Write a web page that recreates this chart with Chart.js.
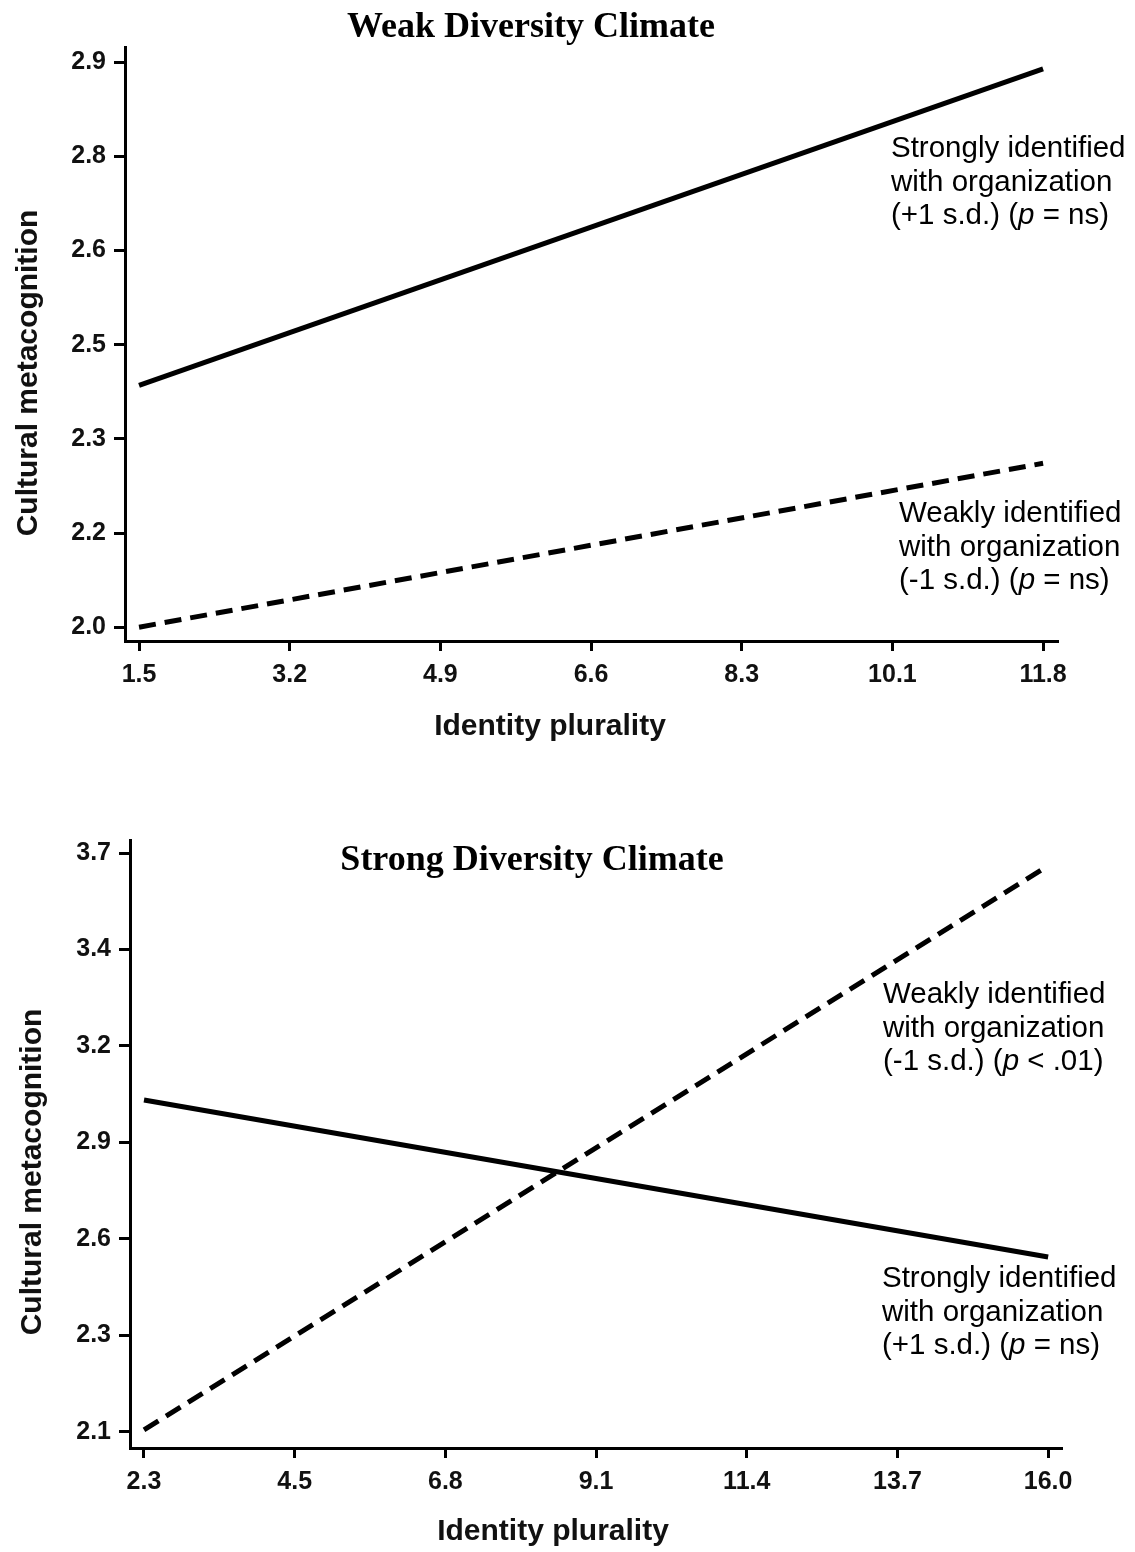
<!DOCTYPE html>
<html><head><meta charset="utf-8">
<script src="https://cdn.jsdelivr.net/npm/chart.js@4.4.1/dist/chart.umd.min.js"></script>
<style>html,body{margin:0;padding:0;background:#fff;} canvas{display:block;position:absolute;left:0;}</style>
</head><body>
<canvas id="c1" width="1135" height="780" style="top:0"></canvas>
<canvas id="c2" width="1135" height="772" style="top:780px"></canvas>
<script>
// ---- Panel 1: Weak Diversity Climate ----
const weakX = [1.5, 11.8];
const weakStrongId = [2.385, 2.889];
const weakWeakId = [2.0, 2.261];
const weakXTicks = [1.5, 3.2167, 4.9333, 6.65, 8.3667, 10.0833, 11.8];
const weakXLabels = ['1.5','3.2','4.9','6.6','8.3','10.1','11.8'];
const weakYTicks = [2.0, 2.15, 2.3, 2.45, 2.6, 2.75, 2.9];
const weakYLabels = ['2.0','2.2','2.3','2.5','2.6','2.8','2.9'];

// ---- Panel 2: Strong Diversity Climate ----
const strongX = [2.3, 16.0];
const strongStrongId = [3.017, 2.583];
const strongWeakId = [2.105, 3.665];
const strongXTicks = [2.3, 4.5833, 6.8667, 9.15, 11.4333, 13.7167, 16.0];
const strongXLabels = ['2.3','4.5','6.8','9.1','11.4','13.7','16.0'];
const strongYTicks = [2.1, 2.3667, 2.6333, 2.9, 3.1667, 3.4333, 3.7];
const strongYLabels = ['2.1','2.3','2.6','2.9','3.2','3.4','3.7'];

const xTitle = 'Identity plurality';
const yTitle = 'Cultural metacognition';
const strongLabel = [[{t:'Strongly identified'}],[{t:'with organization'}],[{t:'(+1 s.d.) ('},{t:'p',i:true},{t:' = ns)'}]];
const weakLabelNs = [[{t:'Weakly identified'}],[{t:'with organization'}],[{t:'(-1 s.d.) ('},{t:'p',i:true},{t:' = ns)'}]];
const weakLabelSig = [[{t:'Weakly identified'}],[{t:'with organization'}],[{t:'(-1 s.d.) ('},{t:'p',i:true},{t:' < .01)'}]];

const SANS = '"Liberation Sans", Arial, Helvetica, sans-serif';
const SERIF = '"Liberation Serif", "Times New Roman", serif';

function pts(xs, ys){ return xs.map((x,i)=>({x:x, y:ys[i]})); }

function drawRich(ctx, lines, x, y0, dy, size){
  ctx.textAlign = 'left';
  ctx.textBaseline = 'alphabetic';
  lines.forEach((parts, li) => {
    let cx = x;
    parts.forEach(p => {
      ctx.font = (p.i ? 'italic ' : '') + size + 'px ' + SANS;
      ctx.fillText(p.t, cx, y0 + li*dy);
      cx += ctx.measureText(p.t).width;
    });
  });
}

function makeChart(id, cfg){
  const textPlugin = {
    id: 'texts',
    afterDraw(chart){
      const ctx = chart.ctx;
      ctx.save();
      ctx.fillStyle = '#000';
      // panel title
      ctx.font = 'bold 36px ' + SERIF;
      ctx.textAlign = 'center';
      ctx.textBaseline = 'alphabetic';
      ctx.fillText(cfg.title, cfg.titlePos[0], cfg.titlePos[1]);
      // x axis title
      ctx.font = 'bold 30px ' + SANS;
      ctx.fillStyle = '#111';
      ctx.fillText(xTitle, cfg.xTitlePos[0], cfg.xTitlePos[1]);
      // y axis title
      ctx.save();
      ctx.translate(cfg.yTitlePos[0], cfg.yTitlePos[1]);
      ctx.rotate(-Math.PI/2);
      ctx.fillText(yTitle, 0, 0);
      ctx.restore();
      // annotations
      ctx.fillStyle = '#000';
      cfg.notes.forEach(n => drawRich(ctx, n.lines, n.x, n.y, 33.5, 29.5));
      ctx.restore();
    }
  };
  return new Chart(document.getElementById(id), {
    type: 'line',
    data: { datasets: [
      { data: pts(cfg.xs, cfg.strong), borderColor:'#000', borderWidth:5, pointRadius:0, fill:false, tension:0 },
      { data: pts(cfg.xs, cfg.weak), borderColor:'#000', borderWidth:5, borderDash:[17,9], pointRadius:0, fill:false, tension:0 }
    ]},
    options: {
      responsive:false, animation:false,
      layout:{ padding:{ left:0, top:cfg.padTop, right:cfg.padRight, bottom:cfg.padBottom } },
      plugins:{ legend:{display:false}, tooltip:{enabled:false}, title:{display:false} },
      scales:{
        x:{ type:'linear', min:cfg.xMin, max:cfg.xMax,
            afterBuildTicks: s => { s.ticks = cfg.xTicks.map(v=>({value:v})); },
            afterFit: s => { s.height = 90; },
            grid:{ drawOnChartArea:false, drawTicks:true, tickLength:10, tickWidth:3, tickColor:'#000' },
            border:{ display:true, width:3, color:'#000' },
            ticks:{ autoSkip:false, maxRotation:0, padding:9, color:'#111',
                    font:{ family:SANS, size:25, weight:'bold' },
                    callback:(v,i)=>cfg.xLabels[i] } },
        y:{ type:'linear', min:cfg.yMin, max:cfg.yMax,
            afterBuildTicks: s => { s.ticks = cfg.yTicks.map(v=>({value:v})); },
            afterFit: s => { s.width = cfg.yWidth; },
            grid:{ drawOnChartArea:false, drawTicks:true, tickLength:11, tickWidth:3, tickColor:'#000' },
            border:{ display:true, width:3, color:'#000' },
            ticks:{ autoSkip:false, padding:8, color:'#111',
                    font:{ family:SANS, size:25, weight:'bold' },
                    callback:(v,i)=>cfg.yLabels[i] } }
      }
    },
    plugins:[textPlugin]
  });
}

makeChart('c1', {
  title:'Weak Diversity Climate', titlePos:[531,37],
  xTitlePos:[550,735], yTitlePos:[37,373],
  xs:weakX, strong:weakStrongId, weak:weakWeakId,
  xTicks:weakXTicks, xLabels:weakXLabels, yTicks:weakYTicks, yLabels:weakYLabels,
  xMin:1.34, xMax:11.97, yMin:1.978, yMax:2.924,
  padTop:47, padRight:77, padBottom:49, yWidth:125,
  notes:[ {lines:strongLabel, x:891, y:157}, {lines:weakLabelNs, x:899, y:522} ]
});

makeChart('c2', {
  title:'Strong Diversity Climate', titlePos:[532,90],
  xTitlePos:[553,760], yTitlePos:[41,392],
  xs:strongX, strong:strongStrongId, weak:strongWeakId,
  xTicks:strongXTicks, xLabels:strongXLabels, yTicks:strongYTicks, yLabels:strongYLabels,
  xMin:2.088, xMax:16.21, yMin:2.055, yMax:3.736,
  padTop:60, padRight:73, padBottom:14, yWidth:130,
  notes:[ {lines:weakLabelSig, x:883, y:223}, {lines:strongLabel, x:882, y:507} ]
});
</script>
</body></html>
